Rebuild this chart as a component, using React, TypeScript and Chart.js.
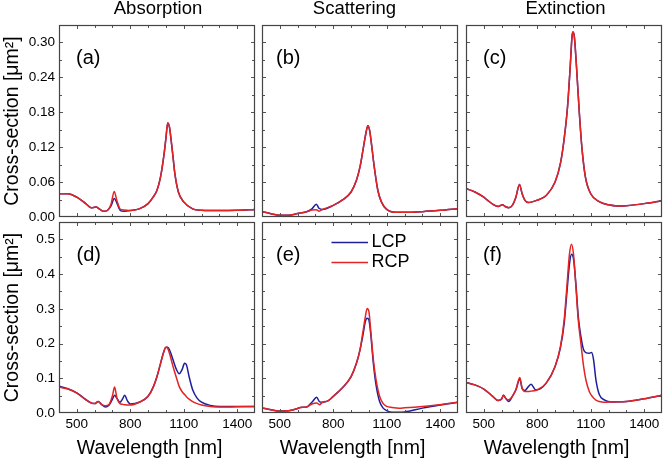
import React, { useEffect, useRef } from 'react';
import { Chart, registerables } from 'chart.js';

Chart.register(...registerables);

// ---------------- data ----------------
const seriesNames = ['LCP', 'RCP'];
const columnTitles = ['Absorption', 'Scattering', 'Extinction'];
const panelLetters = ['(a)', '(b)', '(c)', '(d)', '(e)', '(f)'];
const yAxisTitle = 'Cross-section [\u03bcm\u00b2]';
const xAxisTitle = 'Wavelength [nm]';

const xTickValues = [500, 800, 1100, 1400];
const topYTickValues = [0, 0.06, 0.12, 0.18, 0.24, 0.3];
const bottomYTickValues = [0, 0.1, 0.2, 0.3, 0.4, 0.5];

// (a) absorption
const absWl = [400, 450, 500, 550, 580, 607, 630, 650, 670, 692, 710, 725, 745, 765, 800, 850, 900, 930, 950, 970, 990, 1000, 1010, 1020, 1030, 1040, 1050, 1070, 1100, 1150, 1200, 1300, 1400, 1500];
const absLCP = [0.04, 0.04, 0.034, 0.023, 0.016, 0.017, 0.013, 0.01, 0.011, 0.019, 0.032, 0.024, 0.011, 0.01, 0.011, 0.014, 0.023, 0.035, 0.046, 0.069, 0.109, 0.135, 0.161, 0.154, 0.13, 0.103, 0.075, 0.043, 0.026, 0.014, 0.0115, 0.011, 0.0115, 0.013];
const absRCP = [0.04, 0.04, 0.034, 0.023, 0.016, 0.017, 0.013, 0.01, 0.011, 0.022, 0.044, 0.028, 0.013, 0.012, 0.011, 0.014, 0.023, 0.035, 0.046, 0.069, 0.109, 0.135, 0.162, 0.155, 0.131, 0.103, 0.075, 0.043, 0.026, 0.014, 0.0115, 0.011, 0.0115, 0.013];

// (b) scattering
const scaWl = [400, 450, 500, 550, 600, 650, 680, 705, 720, 740, 800, 850, 900, 930, 950, 970, 985, 994, 1004, 1015, 1030, 1050, 1070, 1100, 1150, 1200, 1300, 1400, 1500];
const scaLCP = [0.0092, 0.0057, 0.003, 0.003, 0.006, 0.009, 0.014, 0.022, 0.015, 0.013, 0.02, 0.029, 0.043, 0.063, 0.086, 0.121, 0.147, 0.157, 0.149, 0.124, 0.086, 0.046, 0.026, 0.013, 0.008, 0.008, 0.0092, 0.0115, 0.0144];
const scaRCP = [0.0092, 0.0057, 0.003, 0.003, 0.006, 0.009, 0.012, 0.0125, 0.01, 0.013, 0.02, 0.029, 0.043, 0.063, 0.086, 0.121, 0.147, 0.157, 0.149, 0.124, 0.086, 0.046, 0.026, 0.013, 0.008, 0.008, 0.0092, 0.0115, 0.0144];

// (c) extinction
const extWl = [400, 450, 500, 520, 550, 580, 605, 620, 640, 660, 680, 700, 715, 730, 750, 800, 850, 900, 930, 950, 970, 985, 995, 1000, 1008, 1020, 1035, 1050, 1070, 1100, 1150, 1200, 1250, 1300, 1400, 1500];
const extLCP = [0.049, 0.043, 0.034, 0.029, 0.022, 0.018, 0.021, 0.018, 0.016, 0.02, 0.034, 0.056, 0.04, 0.029, 0.025, 0.029, 0.037, 0.06, 0.092, 0.132, 0.19, 0.259, 0.31, 0.318, 0.31, 0.259, 0.184, 0.121, 0.069, 0.04, 0.026, 0.021, 0.019, 0.0195, 0.023, 0.028];
const extRCP = [0.049, 0.043, 0.034, 0.029, 0.022, 0.018, 0.021, 0.018, 0.016, 0.02, 0.034, 0.056, 0.04, 0.029, 0.025, 0.029, 0.037, 0.06, 0.092, 0.132, 0.19, 0.259, 0.31, 0.318, 0.31, 0.259, 0.184, 0.121, 0.069, 0.04, 0.026, 0.021, 0.019, 0.0195, 0.023, 0.028];

// (d) absorption (dimer)
const dWl = [400, 450, 500, 550, 580, 600, 620, 640, 660, 680, 700, 712, 725, 742, 756, 768, 785, 800, 850, 900, 930, 950, 970, 990, 1000, 1010, 1020, 1040, 1060, 1075, 1090, 1105, 1115, 1130, 1150, 1175, 1200, 1250, 1300, 1400, 1500];
const dLCP = [0.077, 0.07, 0.058, 0.039, 0.029, 0.027, 0.033, 0.024, 0.017, 0.022, 0.04, 0.051, 0.042, 0.031, 0.04, 0.051, 0.034, 0.026, 0.031, 0.048, 0.076, 0.105, 0.143, 0.179, 0.189, 0.189, 0.182, 0.153, 0.124, 0.113, 0.124, 0.143, 0.139, 0.105, 0.067, 0.043, 0.031, 0.022, 0.019, 0.019, 0.019];
const dRCP = [0.0746, 0.069, 0.057, 0.038, 0.029, 0.027, 0.033, 0.024, 0.021, 0.024, 0.05, 0.0746, 0.043, 0.027, 0.025, 0.024, 0.023, 0.023, 0.031, 0.048, 0.076, 0.105, 0.143, 0.179, 0.189, 0.186, 0.172, 0.134, 0.1, 0.076, 0.062, 0.053, 0.047, 0.04, 0.033, 0.027, 0.023, 0.019, 0.017, 0.018, 0.019];

// (e) scattering (dimer)
const eWl = [400, 450, 500, 550, 600, 615, 650, 680, 707, 722, 740, 770, 800, 850, 900, 930, 950, 965, 980, 990, 1000, 1010, 1025, 1040, 1060, 1080, 1100, 1130, 1170, 1200, 1300, 1400, 1500];
const eLCP = [0.0143, 0.0096, 0.0057, 0.0067, 0.013, 0.016, 0.017, 0.031, 0.045, 0.033, 0.031, 0.035, 0.048, 0.072, 0.105, 0.143, 0.182, 0.22, 0.263, 0.273, 0.268, 0.229, 0.143, 0.081, 0.033, 0.014, 0.0067, 0.002, 0.002, 0.003, 0.014, 0.023, 0.031];
const eRCP = [0.0143, 0.0096, 0.0057, 0.0067, 0.013, 0.016, 0.017, 0.026, 0.029, 0.024, 0.031, 0.035, 0.048, 0.072, 0.105, 0.143, 0.182, 0.229, 0.277, 0.301, 0.292, 0.239, 0.153, 0.096, 0.048, 0.027, 0.019, 0.016, 0.014, 0.015, 0.019, 0.024, 0.031];

// (f) extinction (dimer)
const fWl = [400, 450, 500, 550, 580, 600, 610, 625, 640, 660, 680, 702, 715, 730, 750, 765, 790, 800, 850, 900, 930, 951, 966, 981, 992, 1003, 1017, 1030, 1045, 1060, 1073, 1092, 1105, 1116, 1129, 1148, 1176, 1220, 1300, 1400, 1500];
const fLCP = [0.088, 0.081, 0.069, 0.048, 0.036, 0.04, 0.051, 0.041, 0.033, 0.048, 0.067, 0.098, 0.07, 0.065, 0.076, 0.083, 0.067, 0.067, 0.086, 0.134, 0.188, 0.258, 0.345, 0.43, 0.457, 0.445, 0.37, 0.278, 0.22, 0.182, 0.174, 0.172, 0.174, 0.153, 0.096, 0.053, 0.038, 0.032, 0.033, 0.041, 0.051];
const fRCP = [0.088, 0.081, 0.069, 0.048, 0.036, 0.04, 0.051, 0.041, 0.038, 0.048, 0.067, 0.102, 0.072, 0.062, 0.062, 0.063, 0.065, 0.067, 0.086, 0.134, 0.191, 0.268, 0.363, 0.459, 0.486, 0.459, 0.363, 0.268, 0.2, 0.134, 0.095, 0.062, 0.05, 0.043, 0.037, 0.033, 0.031, 0.032, 0.033, 0.041, 0.051];

const panelWl = [absWl, scaWl, extWl, dWl, eWl, fWl];
const panelLCP = [absLCP, scaLCP, extLCP, dLCP, eLCP, fLCP];
const panelRCP = [absRCP, scaRCP, extRCP, dRCP, eRCP, fRCP];

// ---------------- styles / layout ----------------
const FONT = '"Liberation Sans", Arial, Helvetica, sans-serif';
const BLUE = '#1e1e9c';
const RED = '#e42323';
const X_MIN = 400;
const X_MAX = 1500;
const X_MINOR = 100;
const Y_MAX = [0.33, 0.55];
const Y_MINOR = [0.03, 0.05];
const COLS = [
  [59, 255],
  [262, 458],
  [466, 662],
];
const ROWS = [
  [25, 217],
  [222, 413],
];
const LETTER_DX = [17, 14, 17, 17.5, 14, 17];
const TITLE_DX = [1, -5.5, 1.5];

const decorPlugin = {
  id: 'decor',
  afterDatasetsDraw(chart: any, _args: any, o: any) {
    const { ctx, chartArea: a } = chart;
    const xs = chart.scales.x;
    const ys = chart.scales.y;
    ctx.save();
    // inward ticks on all four sides
    ctx.strokeStyle = '#555';
    ctx.lineWidth = 1;
    ctx.beginPath();
    for (let v = X_MIN + X_MINOR; v < X_MAX; v += X_MINOR) {
      const px = Math.round(xs.getPixelForValue(v)) + 0.5;
      const len = xTickValues.includes(v) ? 4 : 3;
      ctx.moveTo(px, a.bottom);
      ctx.lineTo(px, a.bottom - len);
      ctx.moveTo(px, a.top);
      ctx.lineTo(px, a.top + len);
    }
    for (let k = 1; k * o.yMinor < o.yMax - 1e-9; k++) {
      const v = k * o.yMinor;
      const py = Math.round(ys.getPixelForValue(v)) + 0.5;
      const len = k % 2 === 0 ? 4 : 3;
      ctx.moveTo(a.left, py);
      ctx.lineTo(a.left + len, py);
      ctx.moveTo(a.right, py);
      ctx.lineTo(a.right - len, py);
    }
    ctx.stroke();
    // frame
    ctx.strokeStyle = '#444';
    ctx.lineWidth = 1.2;
    ctx.strokeRect(a.left + 0.5, a.top + 0.5, a.width - 1, a.height - 1);

    ctx.fillStyle = '#000';
    // panel letter
    ctx.font = `20px ${FONT}`;
    ctx.textAlign = 'left';
    ctx.textBaseline = 'alphabetic';
    ctx.fillText(o.letter, a.left + o.letterDx, a.top + 38.5);

    // column title
    if (o.title) {
      ctx.font = `18.5px ${FONT}`;
      ctx.textAlign = 'center';
      ctx.textBaseline = 'middle';
      ctx.fillText(o.title, (a.left + a.right) / 2 + o.titleDx, o.titleY);
    }
    // x axis title
    if (o.xTitle) {
      ctx.font = `19.5px ${FONT}`;
      ctx.textAlign = 'center';
      ctx.textBaseline = 'middle';
      ctx.fillText(o.xTitle, (a.left + a.right) / 2 - 7.5, o.xTitleY);
    }
    // legend
    if (o.legend) {
      const ds = chart.data.datasets;
      ctx.font = `18px ${FONT}`;
      ctx.textAlign = 'left';
      ctx.textBaseline = 'middle';
      ds.forEach((d: any, i: number) => {
        const y = a.top + 20.5 + i * 20;
        ctx.strokeStyle = d.borderColor;
        ctx.lineWidth = 1.5;
        ctx.beginPath();
        ctx.moveTo(a.left + 69.5, y);
        ctx.lineTo(a.left + 106, y);
        ctx.stroke();
        ctx.fillStyle = '#000';
        ctx.fillText(d.label, a.left + 109.5, y);
      });
    }
    ctx.restore();
  },
};

function Panel({ idx }: { idx: number }) {
  const ref = useRef<HTMLCanvasElement | null>(null);
  const row = Math.floor(idx / 3);
  const col = idx % 3;
  const [bl, br] = COLS[col];
  const [bt, bb] = ROWS[row];
  const yW = col === 0 ? bl : 0;
  const padL = col === 0 ? 0 : 10;
  const padR = 6;
  const padT = row === 0 ? 25 : 16;
  const padB = row === 0 ? 16 : 0;
  const xH = row === 1 ? 460 - bb : 0;
  const left = bl - yW - padL;
  const top = bt - padT;
  const width = br - bl + yW + padL + padR;
  const height = bb - bt + padT + padB + xH;

  useEffect(() => {
    if (!ref.current) return;
    const wl = panelWl[idx];
    const lcp = panelLCP[idx];
    const rcp = panelRCP[idx];
    const yTicks = row === 0 ? topYTickValues : bottomYTickValues;
    const chart = new Chart(ref.current, {
      type: 'line',
      data: {
        datasets: [
          {
            label: seriesNames[0],
            data: wl.map((x, i) => ({ x, y: lcp[i] })),
            borderColor: BLUE,
            backgroundColor: BLUE,
            borderWidth: 1.5,
            pointRadius: 0,
            cubicInterpolationMode: 'monotone',
            order: 1,
          },
          {
            label: seriesNames[1],
            data: wl.map((x, i) => ({ x, y: rcp[i] })),
            borderColor: RED,
            backgroundColor: RED,
            borderWidth: 1.5,
            pointRadius: 0,
            cubicInterpolationMode: 'monotone',
            order: 0,
          },
        ],
      },
      options: {
        responsive: false,
        animation: false,
        events: [],
        layout: { padding: { left: padL, right: padR, top: padT, bottom: padB } },
        plugins: {
          legend: { display: false },
          tooltip: { enabled: false },
          title: { display: false },
          decor: {
            letter: panelLetters[idx],
            letterDx: LETTER_DX[idx],
            title: row === 0 ? columnTitles[col] : null,
            titleDx: TITLE_DX[col],
            titleY: 8.7 - top,
            xTitle: row === 1 ? xAxisTitle : null,
            xTitleY: 448.3 - top,
            legend: idx === 4,
            yMax: Y_MAX[row],
            yMinor: Y_MINOR[row],
          },
        } as any,
        scales: {
          x: {
            type: 'linear',
            min: X_MIN,
            max: X_MAX,
            display: row === 1,
            grid: { display: false, drawTicks: false },
            border: { display: false },
            ticks: {
              font: { family: FONT, size: 13.5 },
              color: '#000',
              padding: 3,
              maxRotation: 0,
              autoSkip: false,
              includeBounds: false,
              callback: (v: any) => String(Math.round(Number(v))),
            },
            afterBuildTicks: (s: any) => {
              s.ticks = xTickValues.map((v) => ({ value: v }));
            },
            afterFit: (s: any) => {
              s.height = xH;
            },
          },
          y: {
            type: 'linear',
            min: 0,
            max: Y_MAX[row],
            display: col === 0,
            grid: { display: false, drawTicks: false },
            border: { display: false },
            ticks: {
              font: { family: FONT, size: 13.5 },
              color: '#000',
              padding: 4,
              autoSkip: false,
              includeBounds: false,
              callback: (v: any) => Number(v).toFixed(row === 0 ? 2 : 1),
            },
            afterBuildTicks: (s: any) => {
              s.ticks = yTicks.map((v) => ({ value: v }));
            },
            afterFit: (s: any) => {
              s.width = yW;
            },
            title: {
              display: true,
              text: yAxisTitle,
              color: '#000',
              font: { family: FONT, size: 19.5, lineHeight: 1.2 },
              padding: { top: 1, bottom: 0 },
            },
          },
        },
      } as any,
      plugins: [decorPlugin],
    });
    return () => chart.destroy();
  }, [idx]);

  return (
    <canvas
      ref={ref}
      width={width}
      height={height}
      style={{ position: 'absolute', left, top, width, height }}
    />
  );
}

export default function App() {
  return (
    <div
      style={{
        position: 'fixed',
        left: 0,
        top: 0,
        width: 663,
        height: 460,
        overflow: 'hidden',
        background: '#fff',
      }}
    >
      {[0, 1, 2, 3, 4, 5].map((i) => (
        <Panel key={i} idx={i} />
      ))}
    </div>
  );
}
